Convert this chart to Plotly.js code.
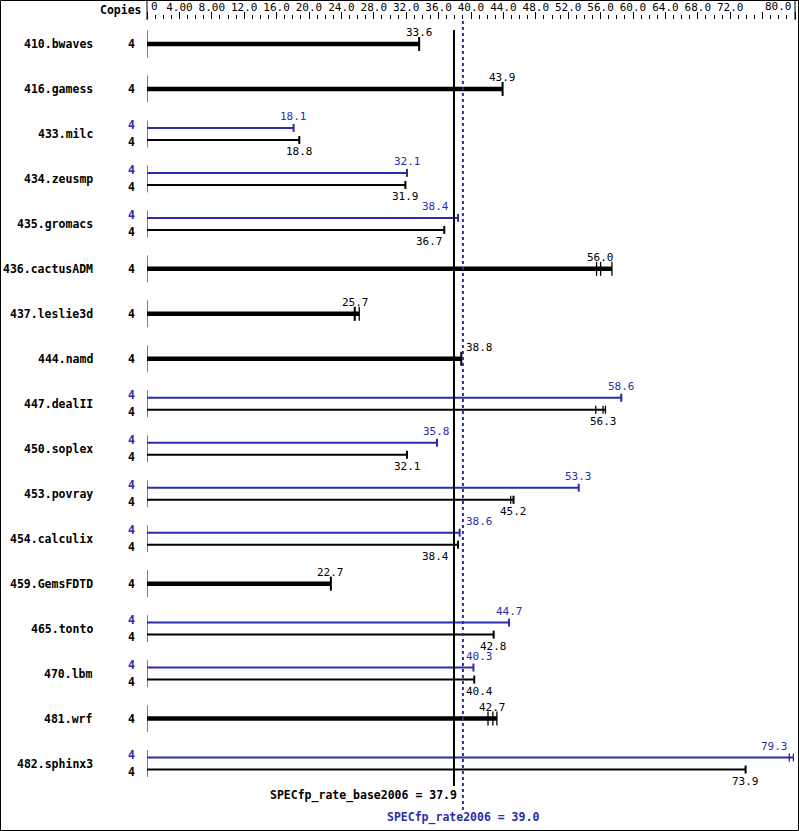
<!DOCTYPE html>
<html>
<head>
<meta charset="utf-8">
<script src="https://cdn.plot.ly/plotly-3.0.1.min.js"></script>
<style>html,body{margin:0;padding:0;background:#fff;}#chart{width:799px;height:831px;}</style>
</head>
<body>
<div id="chart"></div>
<script>
// ---------- data ----------
const benchmarks = ['410.bwaves','416.gamess','433.milc','434.zeusmp','435.gromacs','436.cactusADM','437.leslie3d','444.namd','447.dealII','450.soplex','453.povray','454.calculix','459.GemsFDTD','465.tonto','470.lbm','481.wrf','482.sphinx3'];
const baseCopies = [4,4,4,4,4,4,4,4,4,4,4,4,4,4,4,4,4];
const peakCopies = [null,null,4,4,4,null,null,null,4,4,4,4,null,4,4,null,4];
const baseRatio = [33.6,43.9,18.8,31.9,36.7,56.0,25.7,38.8,56.3,32.1,45.2,38.4,22.7,42.8,40.4,42.7,73.9];
const peakRatio = [null,null,18.1,32.1,38.4,null,null,null,58.6,35.8,53.3,38.6,null,44.7,40.3,null,79.3];
const baseRuns = [[33.6],[43.9],[18.8],[31.9],[36.7],[55.5,56.0,57.4],[25.6,25.7,26.2],[38.8],[55.4,56.3,56.6],[32.1],[44.9,45.2,45.3],[38.4],[22.7],[42.8],[40.4],[42.1,42.7,43.2],[73.9]];
const peakRuns = [null,null,[18.1],[32.1],[38.4],null,null,null,[58.5,58.6],[35.8],[53.3],[38.6],null,[44.7],[40.3],null,[79.3,79.8]];
const baseMean = 37.9;
const peakMean = 39.0;
const baseMeanLabel = 'SPECfp_rate_base2006 = 37.9';
const peakMeanLabel = 'SPECfp_rate2006 = 39.0';
const tickVals = [0,4,8,12,16,20,24,28,32,36,40,44,48,52,56,60,64,68,72,76,80];
const tickText = ['0','4.00','8.00','12.0','16.0','20.0','24.0','28.0','32.0','36.0','40.0','44.0','48.0','52.0','56.0','60.0','64.0','68.0','72.0','','80.0'];

// ---------- geometry helpers ----------
const W = 799, H = 831;
const M = {l:147, r:4, t:20, b:21};
const plotW = W - M.l - M.r, plotH = H - M.t - M.b;
const xMax = 80;
const pxX = plotW / xMax;
const rowPx = 44.97;
const firstRowPx = 44;
const yTop = -(firstRowPx - M.t) / rowPx;
const yBot = yTop + plotH / rowPx;
const yToPx = y => M.t + (y - yTop) * rowPx;
const dy = p => p / rowPx;
const xToPx = v => M.l + v * pxX;
const paperX = p => (p - M.l) / plotW;
const paperY = p => (M.t + plotH - p) / plotH;

const BLUE = '#2c2cab';
const MONO = 'DejaVu Sans Mono, monospace';

const traces = [];
const annotations = [];
function seg(arrX, arrY, x0, y0, x1, y1){ arrX.push(x0, x1, null); arrY.push(y0, y1, null); }
function lineTrace(xs, ys, color, width){
  traces.push({type:'scatter', mode:'lines', x:xs, y:ys, line:{color:color, width:width}, hoverinfo:'skip', showlegend:false, cliponaxis:false});
}
function textPx(xpx, ypx, txt, color, anchor, size, bold){
  annotations.push({x:paperX(xpx), y:paperY(ypx), xref:'paper', yref:'paper', text: bold ? '<b>'+txt+'</b>' : txt,
    showarrow:false, xanchor:anchor, yanchor:'middle', borderpad:0,
    font:{family:MONO, size:size, color:color}});
}

const thickX=[],thickY=[], thinBX=[],thinBY=[], thinPX=[],thinPY=[];
const tickBX=[],tickBY=[], tickPX=[],tickPY=[];
const runBX=[],runBY=[], runPX=[],runPY=[], axX=[],axY=[];

const basePx = xToPx(baseMean), peakPx = xToPx(peakMean), endPx = xToPx(xMax);
function valueLabel(v, y, color){
  const txt = v.toFixed(1);
  const c = xToPx(v), w = txt.length * 6.6;
  let x = c, anchor = 'center';
  if (c + w/2 > basePx - 2 && c - w/2 < peakPx + 2) {
    if (c < (basePx + peakPx)/2) { x = Math.min(c, basePx - 4); anchor = 'right'; }
    else { x = peakPx + 2; anchor = 'left'; }
  } else if (c + w/2 > endPx - 2) { x = Math.min(c, endPx - 3); anchor = 'right'; }
  textPx(x, yToPx(y), txt, color, anchor, 11, false);
}
function runTicks(runs, y, half, blue){
  const many = runs.length > 1;
  const ax = blue ? (many ? runPX : tickPX) : (many ? runBX : tickBX);
  const ay = blue ? (many ? runPY : tickPY) : (many ? runBY : tickBY);
  runs.forEach(r => seg(ax, ay, r, y - dy(half), r, y + dy(half)));
}

benchmarks.forEach((name, i) => {
  const yc = i;
  seg(axX, axY, 0, yc - 0.3, 0, yc + 0.3);
  textPx(94, yToPx(yc), name, '#000', 'right', 11.5, true);
  if (peakRatio[i] == null) {
    const mx = Math.max(...baseRuns[i]);
    seg(thickX, thickY, 0, yc, mx, yc);
    runTicks(baseRuns[i], yc, 7, false);
    textPx(131, yToPx(yc), String(baseCopies[i]), '#000', 'center', 11.5, true);
    valueLabel(baseRatio[i], yc - dy(11), '#000');
  } else {
    const yp = yc - dy(6), yb = yc + dy(6);
    const mp = Math.max(...peakRuns[i]);
    const mb = Math.max(...baseRuns[i]);
    seg(thinPX, thinPY, 0, yp, mp, yp);
    seg(thinBX, thinBY, 0, yb, mb, yb);
    runTicks(peakRuns[i], yp, 4, true);
    runTicks(baseRuns[i], yb, 4, false);
    textPx(131, yToPx(yc - dy(9)), String(peakCopies[i]), BLUE, 'center', 11.5, true);
    textPx(131, yToPx(yc + dy(8)), String(baseCopies[i]), '#000', 'center', 11.5, true);
    valueLabel(peakRatio[i], yp - dy(11), BLUE);
    valueLabel(baseRatio[i], yb + dy(12), '#000');
  }
});

lineTrace(axX, axY, '#000', 1);
lineTrace(thickX, thickY, '#000', 4.5);
lineTrace(thinBX, thinBY, '#000', 2);
lineTrace(thinPX, thinPY, BLUE, 2);
lineTrace(tickBX, tickBY, '#000', 2);
lineTrace(tickPX, tickPY, BLUE, 2);
lineTrace(runBX, runBY, '#000', 1.3);
lineTrace(runPX, runPY, BLUE, 1.3);

// reference lines and frame (paper-referenced so nothing is clipped)
const shapes = [
  {type:'line', xref:'x', yref:'paper', x0:baseMean, x1:baseMean, y0:paperY(30), y1:paperY(786), line:{color:'#000', width:2}},
  {type:'line', xref:'x', yref:'paper', x0:peakMean, x1:peakMean, y0:paperY(21), y1:paperY(810), line:{color:BLUE, width:2, dash:'dot'}},
  {type:'line', xref:'paper', yref:'paper', x0:paperX(147), x1:paperX(147), y0:paperY(1), y1:paperY(20), line:{color:'#000', width:1}},
  {type:'line', xref:'paper', yref:'paper', x0:paperX(endPx), x1:paperX(endPx), y0:paperY(1), y1:paperY(20), line:{color:'#000', width:1}},
  {type:'rect', xref:'paper', yref:'paper', x0:paperX(0.5), x1:paperX(798.5), y0:paperY(0.5), y1:paperY(830.5), line:{color:'#000', width:1}, fillcolor:'rgba(0,0,0,0)'}
];

textPx(143, 10, 'Copies', '#000', 'right', 11.5, true);
textPx(basePx + 4, 795, baseMeanLabel, '#000', 'right', 11.5, true);
textPx(peakPx, 817, peakMeanLabel, BLUE, 'center', 11.5, true);
textPx(xToPx(tickVals[0]) + 3, 7, tickText[0], '#000', 'left', 11, false);
textPx(endPx - 2, 7, tickText[tickText.length-1], '#000', 'right', 11, false);

const axisText = tickText.map((t, k) => (k === 0 || k === tickText.length - 1) ? '' : t);

const layout = {
  width: W, height: H,
  margin: M,
  paper_bgcolor:'#fff', plot_bgcolor:'#fff',
  showlegend:false,
  xaxis: {
    range:[0, xMax], side:'top', fixedrange:true,
    tickmode:'array', tickvals:tickVals, ticktext:axisText,
    ticks:'outside', ticklen:7, tickwidth:1, tickcolor:'#000',
    ticklabelstandoff:-3,
    minor:{dtick:1, tick0:0, ticks:'outside', ticklen:4, tickwidth:1, tickcolor:'#000'},
    showgrid:false, zeroline:false, showline:false,
    tickfont:{family:MONO, size:11, color:'#000'}
  },
  yaxis: {
    range:[yBot, yTop], fixedrange:true,
    showgrid:false, zeroline:false, showline:false, showticklabels:false, ticks:''
  },
  shapes: shapes,
  annotations: annotations
};

Plotly.newPlot('chart', traces, layout, {staticPlot:true, displayModeBar:false});
</script>
</body>
</html>
